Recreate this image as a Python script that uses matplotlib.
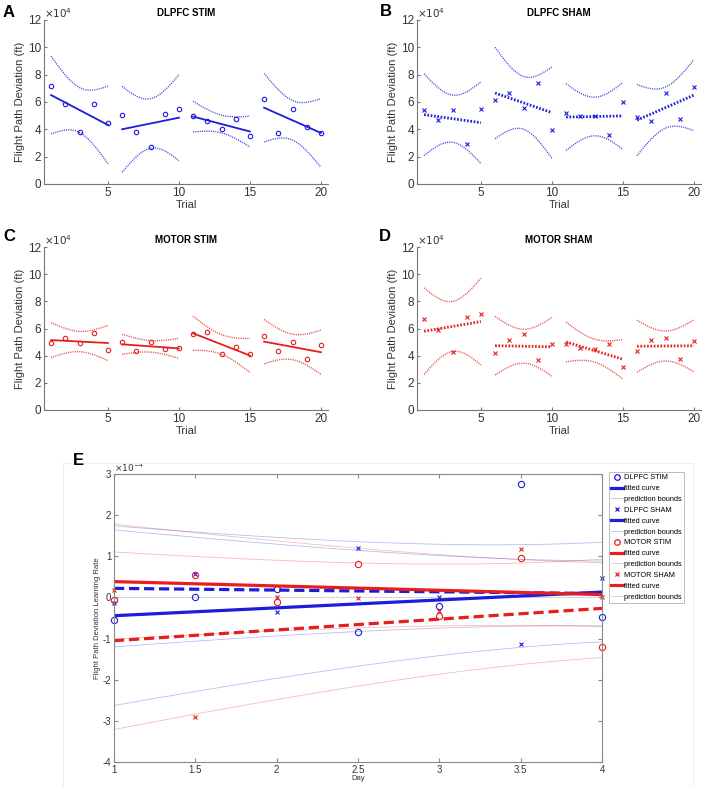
import numpy as np
import matplotlib
matplotlib.use("Agg")
import matplotlib.pyplot as plt
from matplotlib.lines import Line2D
from matplotlib.patches import Rectangle

plt.rcParams['font.family'] = ['Liberation Sans', 'DejaVu Sans']
plt.rcParams['axes.unicode_minus'] = False

# ensayos 1..20, valores en unidades de 1e4 ft
trials = np.arange(1, 21)
dlpfc_stim = [7.17, 5.83, 3.80, 5.83, 4.44, 5.07, 3.78, 2.71, 5.12, 5.46,
              4.98, 4.61, 4.05, 4.76, 3.54, 6.24, 3.71, 5.49, 4.15, 3.71]
dlpfc_sham = [5.39, 4.66, 5.39, 2.95, 5.51, 6.12, 6.66, 5.56, 7.41, 3.95,
              5.17, 5.00, 4.95, 3.59, 5.98, 4.88, 4.59, 6.63, 4.78, 7.07]
motor_stim = [4.90, 5.27, 4.93, 5.67, 4.43, 5.00, 4.38, 4.98, 4.51, 4.56,
              5.57, 5.74, 4.14, 4.61, 4.09, 5.42, 4.33, 5.00, 3.72, 4.75]
motor_sham = [6.67, 5.91, 4.24, 6.85, 7.09, 4.19, 5.17, 5.59, 3.69, 4.83,
              4.88, 4.53, 4.46, 4.85, 3.13, 4.31, 5.15, 5.30, 3.72, 5.07]

# tasa de aprendizaje por dia, unidades de 1e-4
days = [1, 1.5, 2, 2.5, 3, 3.5, 4]
lr_dlpfc_stim = [-0.55, 0.00, 0.20, -0.83, -0.20, 2.76, -0.47]
lr_dlpfc_sham = [-0.14, 0.57, -0.35, 1.21, 0.02, -1.12, 0.47]
lr_motor_stim = [-0.06, 0.55, -0.12, 0.81, -0.45, 0.95, -1.20]
lr_motor_sham = [0.19, -2.91, 0.00, -0.01, -0.33, 1.18, 0.02]

titulos = ["DLPFC STIM", "DLPFC SHAM", "MOTOR STIM", "MOTOR SHAM"]

AZUL = '#1c1cdc'
ROJO = '#e61e1e'
T_CRIT = {3: 3.1824, 5: 2.5706}  # t(0.975, n-2)


# ajuste lineal con limites de prediccion (funcion, 95%)
def ajuste(x, y, xs):
    x = np.asarray(x, float)
    y = np.asarray(y, float)
    n = len(x)
    b, a = np.polyfit(x, y, 1)
    res = y - (a + b * x)
    s = np.sqrt(np.sum(res ** 2) / (n - 2))
    sxx = np.sum((x - x.mean()) ** 2)
    yh = a + b * xs
    d = T_CRIT[n - 2] * s * np.sqrt(1.0 / n + (xs - x.mean()) ** 2 / sxx)
    return yh, yh - d, yh + d


def panel(ax, y, color, marker, sham, titulo):
    y = np.asarray(y, float)
    for k in range(4):
        x = trials[5 * k:5 * k + 5]
        yy = y[5 * k:5 * k + 5]
        xs = np.linspace(x[0], x[-1], 80)
        yh, lo, hi = ajuste(x, yy, xs)
        ax.plot(x, yy, marker, ls='none', color=color, ms=3.2, mfc='none', mew=0.8)
        if sham:
            ax.plot(xs, yh, color=color, ls=(0, (0.6, 0.6)), lw=2.0)
        else:
            ax.plot(xs, yh, color=color, lw=1.3)
        ax.plot(xs, lo, color=color, ls=(0, (0.8, 0.8)), lw=1.0, alpha=0.8)
        ax.plot(xs, hi, color=color, ls=(0, (0.8, 0.8)), lw=1.0, alpha=0.8)
    ax.set_xlim(0.5, 20.5)
    ax.set_ylim(0, 12)
    ax.set_xticks([5, 10, 15, 20])
    ax.set_yticks(range(0, 13, 2))
    ax.spines['top'].set_visible(False)
    ax.spines['right'].set_visible(False)
    for s in ['left', 'bottom']:
        ax.spines[s].set_color('#777777')
        ax.spines[s].set_linewidth(0.8)
    ax.tick_params(direction='in', length=2.5, labelsize=8.5, colors='#777777',
                   labelcolor='#333333', pad=2)
    ax.set_xlabel("Trial", fontsize=8, color='#333333', labelpad=1)
    ax.set_ylabel("Flight Path Deviation (ft)", fontsize=8, color='#333333', labelpad=2)
    ax.set_title(titulo, fontsize=7, fontweight='bold', pad=3)
    ax.text(0.0, 1.0, r"$\times10^4$", transform=ax.transAxes, fontsize=7.5,
            color='#333333', ha='left', va='bottom')


W, H = 708, 787
fig = plt.figure(figsize=(W / 100, H / 100), dpi=100)


def caja(x0, y0, x1, y1):
    return [x0 / W, 1 - y1 / H, (x1 - x0) / W, (y1 - y0) / H]


axA = fig.add_axes(caja(44, 20, 328, 184))
axB = fig.add_axes(caja(417, 20, 701, 184))
axC = fig.add_axes(caja(44, 247, 328, 410))
axD = fig.add_axes(caja(417, 247, 701, 410))
axE = fig.add_axes(caja(114, 474, 602, 762))

panel(axA, dlpfc_stim, AZUL, 'o', False, titulos[0])
panel(axB, dlpfc_sham, AZUL, 'x', True, titulos[1])
panel(axC, motor_stim, ROJO, 'o', False, titulos[2])
panel(axD, motor_sham, ROJO, 'x', True, titulos[3])

# marco tenue de la figura E
fig.patches.append(Rectangle((63 / W, 0), (693 - 63) / W, 1 - 463 / H,
                             transform=fig.transFigure, fill=False,
                             edgecolor='#eeeeee', lw=0.8))

# panel E
idx = np.arange(1, 8)
xs = np.linspace(1, 4, 100)
series = [(lr_dlpfc_stim, AZUL, 'o', '-'), (lr_dlpfc_sham, AZUL, 'x', '--'),
          (lr_motor_stim, ROJO, 'o', '-'), (lr_motor_sham, ROJO, 'x', '--')]
axE.axhline(0, color='#999999', lw=0.6, ls=(0, (1, 1)))
for y, c, m, ls in series:
    yh, lo, hi = ajuste(idx, y, xs)
    axE.plot(xs, lo, color=c, lw=0.6, alpha=0.3)
    axE.plot(xs, hi, color=c, lw=0.6, alpha=0.3)
for y, c, m, ls in series:
    yh, lo, hi = ajuste(idx, y, xs)
    if ls == '--':
        axE.plot(xs, yh, color=c, lw=2.3, ls=(0, (3.2, 1.5)))
    else:
        axE.plot(xs, yh, color=c, lw=2.3)
    axE.plot(days, y, m, ls='none', color=c, ms=4.5 if m == 'o' else 3.5,
             mfc='none', mew=0.8, clip_on=False)

axE.set_xlim(1, 4)
axE.set_ylim(-4, 3)
axE.set_xticks(days)
axE.set_xticklabels(['1', '1.5', '2', '2.5', '3', '3.5', '4'])
axE.set_yticks(range(-4, 4))
for s in axE.spines.values():
    s.set_color('#888888')
    s.set_linewidth(0.8)
axE.tick_params(direction='in', length=3, labelsize=7, colors='#888888',
                labelcolor='#333333', top=True, right=True, pad=2)
axE.set_xlabel("Day", fontsize=5.5, color='#333333', labelpad=0)
axE.set_ylabel("Flight Path Deviation Learning Rate", fontsize=5.5,
               color='#333333', labelpad=1)
axE.text(0.0, 1.0, r"$\times10^{-4}$", transform=axE.transAxes, fontsize=6.5,
         color='#333333', ha='left', va='bottom')

nombres = ["DLPFC STIM", "DLPFC SHAM", "MOTOR STIM", "MOTOR SHAM"]
manijas = []
etiquetas = []
for (y, c, m, ls), nom in zip(series, nombres):
    manijas.append(Line2D([], [], color=c, marker=m, ls='none', mfc='none',
                          ms=4 if m == 'o' else 3, mew=0.9))
    manijas.append(Line2D([], [], color=c, lw=2.3))
    manijas.append(Line2D([], [], color=c, lw=0.6, alpha=0.3))
    etiquetas += [nom, "fitted curve", "prediction bounds"]
leg = fig.legend(manijas, etiquetas, loc='upper left',
                 bbox_to_anchor=(609 / W, 1 - 472 / H), fontsize=5.3,
                 handlelength=1.6, handletextpad=0.2, labelspacing=0.5,
                 borderpad=0.3, borderaxespad=0, fancybox=False, frameon=True)
leg.get_frame().set_edgecolor('#aaaaaa')
leg.get_frame().set_linewidth(0.7)

# letras de los paneles
for letra, (px, py) in zip("ABCDE", [(3, 5), (380, 4), (3, 229), (379, 229), (73, 453)]):
    fig.text(px / W, 1 - py / H, letra, fontsize=12, fontweight='bold',
             ha='left', va='top')

fig.savefig("out.png", dpi=100)
